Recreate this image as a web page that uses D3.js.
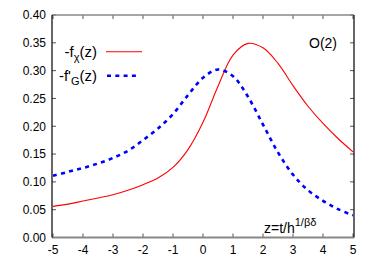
<!DOCTYPE html>
<html lang="en">
<head>
<meta charset="UTF-8">
<title>O(2) scaling functions</title>
<style>
    body { margin: 0; background: #fff; }
    svg text { font-family: "Liberation Sans", Arial, sans-serif; fill: #000; }
</style>
</head>
<body>
<svg id="chart" width="376" height="263"></svg>
<script src="https://d3js.org/d3.v7.min.js"></script>
<script>
    // values
    const zValues = [-5, -4.5, -4, -3.5, -3, -2.5, -2, -1.5, -1, -0.5, 0, 0.5, 1, 1.5, 2, 2.5, 3, 3.5, 4, 4.5, 5];
    const fChi = [0.056, 0.060, 0.0655, 0.071, 0.077, 0.085, 0.095, 0.107, 0.126, 0.158, 0.207, 0.272, 0.328, 0.349, 0.341, 0.313, 0.273, 0.236, 0.205, 0.178, 0.154];
    const fG = [0.111, 0.118, 0.125, 0.133, 0.143, 0.156, 0.175, 0.196, 0.222, 0.256, 0.287, 0.302, 0.290, 0.253, 0.203, 0.153, 0.113, 0.085, 0.066, 0.051, 0.040];
    const xTicks = [-5, -4, -3, -2, -1, 0, 1, 2, 3, 4, 5];
    const yTicks = [0, 0.05, 0.10, 0.15, 0.20, 0.25, 0.30, 0.35, 0.40];

    const svg = d3.select("#chart");

    let x = d3.scaleLinear().domain([-5, 5]).range([53, 353]);
    let y = d3.scaleLinear().domain([0, 0.4]).range([237.5, 15]);

    const pLeft = x(-5) - 1, pRight = x(5) + 1;
    const pTop = y(0.4), pBottom = y(0);

    // inside ticks on all four sides
    const tk = 4;
    const ticks = svg.append("g").attr("stroke", "#555").attr("stroke-width", 1);
    xTicks.forEach(t => {
        ticks.append("line").attr("x1", x(t)).attr("x2", x(t)).attr("y1", pBottom).attr("y2", pBottom - tk);
        ticks.append("line").attr("x1", x(t)).attr("x2", x(t)).attr("y1", pTop).attr("y2", pTop + tk);
    });
    yTicks.forEach(t => {
        ticks.append("line").attr("x1", pLeft).attr("x2", pLeft + tk).attr("y1", y(t)).attr("y2", y(t));
        ticks.append("line").attr("x1", pRight).attr("x2", pRight - tk).attr("y1", y(t)).attr("y2", y(t));
    });

    // tick labels
    svg.append("g").selectAll("text")
        .data(xTicks)
        .join("text")
        .attr("x", d => x(d))
        .attr("y", 254)
        .attr("text-anchor", "middle")
        .style("font-size", "12px")
        .text(d => d);

    svg.append("g").selectAll("text")
        .data(yTicks)
        .join("text")
        .attr("x", pLeft - 6)
        .attr("y", d => y(d) + 4.3)
        .attr("text-anchor", "end")
        .style("font-size", "12px")
        .text(d => d.toFixed(2));

    // curves
    const line = (vals) => d3.line()
        .x((d, i) => x(zValues[i]))
        .y(d => y(d))
        .curve(d3.curveCatmullRom.alpha(0.5))(vals);

    svg.append("path")
        .attr("d", line(fChi))
        .attr("fill", "none")
        .attr("stroke", "#ff0000")
        .attr("stroke-width", 1.1);

    svg.append("path")
        .attr("d", line(fG))
        .attr("fill", "none")
        .attr("stroke", "#0000ff")
        .attr("stroke-width", 2.6)
        .attr("stroke-dasharray", "4,4.3");

    // frame
    svg.append("line").attr("x1", pLeft).attr("x2", pRight).attr("y1", pTop).attr("y2", pTop)
        .attr("stroke", "#888").attr("stroke-width", 1.5);
    svg.append("line").attr("x1", pLeft).attr("x2", pRight).attr("y1", pBottom).attr("y2", pBottom)
        .attr("stroke", "#888").attr("stroke-width", 2);
    svg.append("line").attr("x1", pLeft).attr("x2", pLeft).attr("y1", pTop).attr("y2", pBottom)
        .attr("stroke", "#000").attr("stroke-width", 1.2);
    svg.append("line").attr("x1", pRight).attr("x2", pRight).attr("y1", pTop).attr("y2", pBottom)
        .attr("stroke", "#000").attr("stroke-width", 1.2);

    // legend
    const leg1 = svg.append("text").attr("x", 97).attr("y", 57).attr("text-anchor", "end").style("font-size", "15px");
    leg1.append("tspan").text("-f");
    leg1.append("tspan").attr("dy", 4).style("font-size", "11px").text("χ");
    leg1.append("tspan").attr("dy", -4).text("(z)");
    svg.append("line").attr("x1", 106).attr("x2", 142).attr("y1", 51.7).attr("y2", 51.7)
        .attr("stroke", "#ff0000").attr("stroke-width", 1.1);

    const leg2 = svg.append("text").attr("x", 97).attr("y", 81).attr("text-anchor", "end").style("font-size", "15px");
    leg2.append("tspan").text("-f'");
    leg2.append("tspan").attr("dy", 4).style("font-size", "11px").text("G");
    leg2.append("tspan").attr("dy", -4).text("(z)");
    svg.append("line").attr("x1", 107).attr("x2", 139).attr("y1", 75.7).attr("y2", 75.7)
        .attr("stroke", "#0000ff").attr("stroke-width", 2.6).attr("stroke-dasharray", "4,4.3");

    svg.append("text").attr("x", 337).attr("y", 48).attr("text-anchor", "end")
        .style("font-size", "14px").text("O(2)");

    const xl = svg.append("text").attr("x", 264).attr("y", 233).style("font-size", "14px");
    xl.append("tspan").text("z=t/h");
    xl.append("tspan").attr("dy", -7).style("font-size", "11px").text("1/βδ");
</script>
</body>
</html>
